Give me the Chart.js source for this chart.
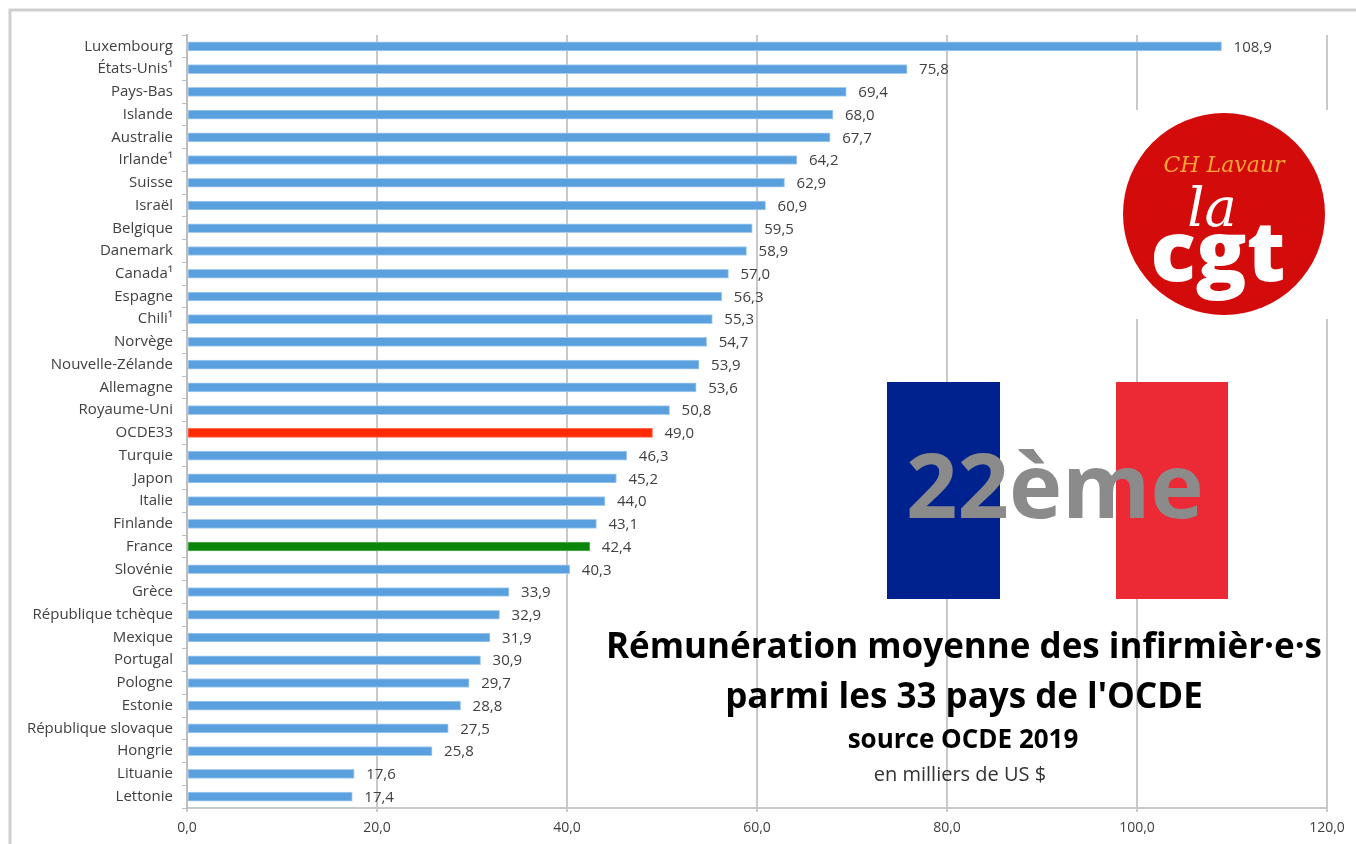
<!DOCTYPE html>
<html>
<head>
<meta charset="utf-8">
<script src="https://cdn.jsdelivr.net/npm/chart.js@4.4.1/dist/chart.umd.min.js"></script>
<style>
  body { margin: 0; background: #fff; }
  canvas { display: block; }
</style>
</head>
<body>
<canvas id="graph-remuneration" width="1356" height="844"></canvas>
<script>
// ==================== données ===================
const pays = [
  "Luxembourg", "États-Unis¹", "Pays-Bas", "Islande", "Australie", "Irlande¹",
  "Suisse", "Israël", "Belgique", "Danemark", "Canada¹", "Espagne", "Chili¹",
  "Norvège", "Nouvelle-Zélande", "Allemagne", "Royaume-Uni", "OCDE33", "Turquie",
  "Japon", "Italie", "Finlande", "France", "Slovénie", "Grèce",
  "République tchèque", "Mexique", "Portugal", "Pologne", "Estonie",
  "République slovaque", "Hongrie", "Lituanie", "Lettonie"
];
const remuneration = [
  108.9, 75.8, 69.4, 68.0, 67.7, 64.2, 62.9, 60.9, 59.5, 58.9, 57.0, 56.3, 55.3,
  54.7, 53.9, 53.6, 50.8, 49.0, 46.3, 45.2, 44.0, 43.1, 42.4, 40.3, 33.9,
  32.9, 31.9, 30.9, 29.7, 28.8, 27.5, 25.8, 17.6, 17.4
];
const xTicks = [0, 20, 40, 60, 80, 100, 120];
const titre = ["Rémunération moyenne des infirmièr·e·s", "parmi les 33 pays de l'OCDE"];
const sousTitre = "source OCDE 2019";
const unite = "en milliers de US $";
const rang = "22ème";

const FONT = "'Open Sans', 'Noto Sans', sans-serif";

function virgule(v) {
  return v.toFixed(1).replace(".", ",");
}

const barColors = pays.map(p => p === "OCDE33" ? "#FF2A00" : (p === "France" ? "#0A850A" : "#5AA0DF"));
const barBorders = pays.map(p => p === "OCDE33" ? "#FF6A50" : (p === "France" ? "#5DB05D" : "#A6CCEE"));

// ==================== plugins ===================
const fondPlugin = {
  id: "fond",
  beforeDraw(chart) {
    const ctx = chart.ctx;
    ctx.save();
    ctx.fillStyle = "#fff";
    ctx.fillRect(0, 0, chart.width, chart.height);
    ctx.strokeStyle = "#CFCFCF";
    ctx.lineWidth = 3;
    ctx.strokeRect(10, 10, chart.width + 20, chart.height + 20);
    ctx.restore();
  }
};

const valeursPlugin = {
  id: "valeurs",
  afterDatasetsDraw(chart) {
    const ctx = chart.ctx;
    const meta = chart.getDatasetMeta(0);
    ctx.save();
    ctx.fillStyle = "#404040";
    ctx.font = "15px " + FONT;
    ctx.textBaseline = "middle";
    meta.data.forEach((bar, i) => {
      ctx.fillText(virgule(remuneration[i]), bar.x + 12, bar.y + 1);
    });
    ctx.restore();
  }
};

const decorPlugin = {
  id: "decor",
  afterDraw(chart) {
    const ctx = chart.ctx;
    ctx.save();

    // logo CGT
    ctx.fillStyle = "#fff";
    ctx.fillRect(1114, 110, 220, 209);
    ctx.fillStyle = "#D30B0B";
    ctx.beginPath();
    ctx.arc(1224, 214, 101, 0, Math.PI * 2);
    ctx.fill();
    ctx.textAlign = "center";
    ctx.textBaseline = "alphabetic";
    ctx.fillStyle = "#F6A43A";
    ctx.font = "italic 22px 'DejaVu Serif', serif";
    ctx.fillText("CH Lavaur", 1224, 172);
    ctx.fillStyle = "#fff";
    ctx.font = "italic 54px 'DejaVu Serif', serif";
    ctx.fillText("la", 1212, 226);
    ctx.font = "800 84px " + FONT;
    ctx.fillText("cgt", 1218, 281);

    // drapeau
    ctx.fillStyle = "#00228F";
    ctx.fillRect(887, 382, 113, 217);
    ctx.fillStyle = "#fff";
    ctx.fillRect(1000, 382, 116, 217);
    ctx.fillStyle = "#EC2A36";
    ctx.fillRect(1116, 382, 112, 217);
    ctx.fillStyle = "#8B8B8B";
    ctx.font = "bold 90px " + FONT;
    ctx.textAlign = "left";
    ctx.fillText(rang, 906, 518);

    // titre
    ctx.textAlign = "center";
    ctx.fillStyle = "#000";
    ctx.font = "bold 35px " + FONT;
    ctx.fillText(titre[0], 964, 658, 716);
    ctx.fillText(titre[1], 964, 708, 482);
    ctx.font = "bold 26px " + FONT;
    ctx.fillText(sousTitre, 963, 748, 238);
    ctx.fillStyle = "#333";
    ctx.font = "20px " + FONT;
    ctx.fillText(unite, 960, 781, 177);

    ctx.restore();
  }
};

// ==================== graphique ===================
const graph = document.getElementById("graph-remuneration").getContext("2d");
const chartRemuneration = new Chart(graph, {
  type: "bar",
  data: {
    labels: pays,
    datasets: [
      {
        label: "Rémunération",
        data: remuneration,
        backgroundColor: barColors,
        borderColor: barBorders,
        borderWidth: 1,
        borderSkipped: false,
        barThickness: 9,
      },
    ],
  },
  options: {
    indexAxis: "y",
    responsive: false,
    animation: false,
    layout: {
      padding: { top: 35, right: 29, left: 0, bottom: 0 },
    },
    plugins: {
      legend: { display: false },
      tooltip: { enabled: false },
    },
    scales: {
      x: {
        min: 0,
        max: 120,
        afterBuildTicks(scale) {
          scale.ticks = xTicks.map(v => ({ value: v }));
        },
        afterFit(scale) {
          scale.height = 36;
        },
        grid: {
          color: "#C9C9C9",
          lineWidth: 2,
          tickLength: 4,
        },
        border: { color: "#C9C9C9", width: 2 },
        ticks: {
          padding: 8,
          color: "#404040",
          font: { size: 14, family: FONT },
          callback: v => virgule(v),
        },
      },
      y: {
        afterFit(scale) {
          scale.width = 187;
        },
        grid: {
          drawOnChartArea: false,
          offset: true,
          color: "#BDBDBD",
          tickLength: 5,
          lineWidth: 1,
        },
        border: { color: "#BDBDBD", width: 2 },
        ticks: {
          padding: 9,
          color: "#404040",
          font: { size: 15, family: FONT },
          autoSkip: false,
        },
      },
    },
  },
  plugins: [fondPlugin, valeursPlugin, decorPlugin],
});
</script>
</body>
</html>
